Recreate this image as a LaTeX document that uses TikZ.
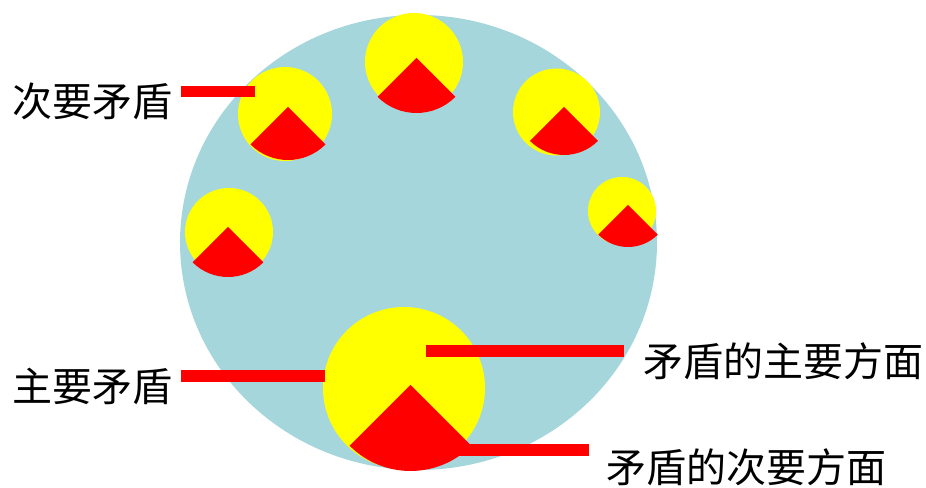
\documentclass[tikz,border=0pt]{standalone}
\usepackage{fontspec}
\newfontfamily\cjk{Noto Sans CJK SC}
\usepackage{tikz}
\usetikzlibrary{calc}
\definecolor{sfondo}{RGB}{165,214,220}
\definecolor{giallo}{RGB}{255,255,0}
\definecolor{rosso}{RGB}{255,0,0}

\begin{document}
\begin{tikzpicture}[x=0.75pt, y=0.75pt,
  lab/.style={font=\cjk\fontsize{30pt}{36pt}\selectfont, inner sep=0pt},
  bar/.style={draw=rosso, line width=8.6pt}]
\useasboundingbox (0,0) rectangle (926,488);
% Cerchio di fondo
\fill[sfondo] (418.5,245.5) ellipse [x radius=238.5, y radius=227.5];
% Contraddizioni: cerchio giallo (centro, raggio) e settore rosso (vertice, raggio)
\foreach \x/\y/\r/\ax/\ay/\R in {414/426/49/416.5/430/55, 285/374/47/288/381/53,
    556.5/376/43.5/564/381/48, 229/256/44/228/261/50, 622/277/34/628/283/42,
    404/100/81/410.5/103/86}{
  \fill[giallo] (\x,\y) circle [radius=\r];
  \fill[rosso] (\ax,\ay) -- ++(225:\R)
    arc[start angle=225, end angle=315, radius=\R] -- cycle;
}
% Etichette
\node[lab, anchor=base east] (minore) at (173,371.5) {次要矛盾};
\node[lab, anchor=base east] (principale) at (173,86) {主要矛盾};
\node[lab, anchor=base west] (aspP) at (643,111.5) {矛盾的主要方面};
\node[lab, anchor=base west] (aspS) at (606,5) {矛盾的次要方面};
% Estremi delle linee
\coordinate (fMin) at (255,396.5);
\coordinate (fPri) at (325,112);
\coordinate (fAspP) at (426,137);
\coordinate (fAspS) at (446,38);
% Linee rosse
\draw[bar, shorten <=6pt] (minore.east |- fMin) -- (fMin);
\draw[bar, shorten <=6pt] (principale.east |- fPri) -- (fPri);
\draw[bar, shorten >=14pt] (fAspP) -- (aspP.west |- fAspP);
\draw[bar, shorten >=13pt] (fAspS) -- (aspS.west |- fAspS);
\end{tikzpicture}
\end{document}
